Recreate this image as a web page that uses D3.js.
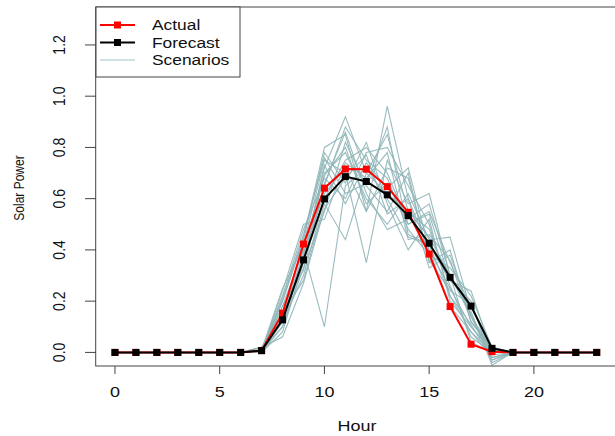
<!DOCTYPE html>
<html>
<head>
<meta charset="utf-8">
<script src="https://cdn.jsdelivr.net/npm/d3@7"></script>
<style>
  body { margin: 0; background: #fff; }
  text { font-family: "Liberation Sans", Arial, sans-serif; fill: #111; }
</style>
</head>
<body>
<svg id="chart" width="615" height="436"></svg>
<script>
const hours = d3.range(0, 24);
const actual = [0,0,0,0,0,0,0,0.007,0.153,0.423,0.641,0.716,0.715,0.647,0.547,0.384,0.179,0.032,0.003,0,0,0,0,0];
const forecast = [0,0,0,0,0,0,0,0.007,0.127,0.361,0.599,0.686,0.667,0.615,0.534,0.426,0.293,0.181,0.016,0,0,0,0,0];

// scenario values for hours 7..19 (zero outside)
const scenarioHours = d3.range(7, 20);
const scenarios = [
  [0.01,0.15,0.38,0.72,0.92,0.70,0.62,0.55,0.45,0.30,0.15,-0.02,0],
  [0.00,0.20,0.45,0.80,0.85,0.55,0.96,0.60,0.40,0.25,0.10,0.00,0],
  [0.02,0.12,0.30,0.60,0.75,0.80,0.70,0.50,0.55,0.35,0.18,0.02,0],
  [0.00,0.18,0.40,0.10,0.65,0.72,0.60,0.45,0.42,0.28,0.20,-0.04,0],
  [0.01,0.22,0.48,0.68,0.60,0.78,0.80,0.65,0.50,0.22,0.08,0.00,0],
  [0.00,0.10,0.33,0.55,0.82,0.65,0.55,0.70,0.35,0.40,0.12,0.01,0],
  [0.01,0.25,0.42,0.75,0.70,0.35,0.75,0.58,0.62,0.30,0.14,-0.03,0],
  [0.00,0.14,0.36,0.65,0.88,0.75,0.68,0.48,0.38,0.33,0.22,0.02,0],
  [0.02,0.16,0.28,0.58,0.44,0.70,0.85,0.55,0.48,0.26,0.06,0.00,0],
  [0.00,0.08,0.35,0.70,0.78,0.60,0.50,0.62,0.44,0.45,0.16,-0.05,0],
  [0.01,0.20,0.44,0.78,0.66,0.82,0.58,0.40,0.52,0.20,0.10,0.01,0],
  [0.00,0.12,0.39,0.62,0.72,0.55,0.72,0.68,0.36,0.24,0.19,-0.01,0],
  [0.01,0.18,0.32,0.66,0.86,0.62,0.48,0.52,0.58,0.30,0.04,0.00,0],
  [0.00,0.24,0.50,0.52,0.74,0.68,0.78,0.44,0.46,0.36,0.12,0.02,0],
  [0.01,0.10,0.37,0.73,0.58,0.74,0.64,0.72,0.40,0.18,0.08,-0.02,0],
  [0.00,0.15,0.41,0.69,0.80,0.58,0.66,0.50,0.54,0.28,0.24,0.00,0],
  [0.02,0.06,0.27,0.56,0.68,0.77,0.54,0.60,0.33,0.38,0.14,0.01,0],
  [0.00,0.21,0.46,0.76,0.62,0.66,0.88,0.46,0.42,0.22,0.11,-0.03,0]
];

const xTicks = [0, 5, 10, 15, 20];
const yTicks = [0, 0.2, 0.4, 0.6, 0.8, 1.0, 1.2];
const legendLabels = ["Actual", "Forecast", "Scenarios"];

const svg = d3.select("#chart");
const stretch = 1.2; // text in the reference is widened horizontally

const x = d3.scaleLinear().domain([-0.92, 23.92]).range([95.7, 616]);
const y = d3.scaleLinear().domain([-0.053, 1.348]).range([366, 7]);

const line = d3.line()
    .x(d => x(d[0]))
    .y(d => y(d[1]));

// scenarios
svg.append("g")
  .selectAll("path")
  .data(scenarios)
  .enter().append("path")
    .attr("d", s => line([[6, 0]].concat(scenarioHours.map((h, i) => [h, s[i]]))))
    .attr("fill", "none")
    .attr("stroke", "#8fb5b8")
    .attr("stroke-width", 1.1)
    .attr("stroke-opacity", 0.9);

function drawSeries(vals, color) {
  const pts = hours.map((h, i) => [h, vals[i]]);
  const g = svg.append("g");
  g.append("path")
    .attr("d", line(pts))
    .attr("fill", "none")
    .attr("stroke", color)
    .attr("stroke-width", 2);
  g.selectAll("rect")
    .data(pts)
    .enter().append("rect")
      .attr("x", d => x(d[0]) - 3.5)
      .attr("y", d => y(d[1]) - 3.5)
      .attr("width", 7)
      .attr("height", 7)
      .attr("fill", color);
}
drawSeries(actual, "#ff0000");
drawSeries(forecast, "#000000");

// plot box
svg.append("rect")
    .attr("x", x.range()[0])
    .attr("y", 7)
    .attr("width", x.range()[1] - x.range()[0])
    .attr("height", 366 - 7)
    .attr("fill", "none")
    .attr("stroke", "#444")
    .attr("stroke-width", 1);

// y axis
const yAxis = svg.append("g");
yAxis.selectAll("line")
  .data(yTicks)
  .enter().append("line")
    .attr("x1", 85).attr("x2", 96)
    .attr("y1", d => y(d)).attr("y2", d => y(d))
    .attr("stroke", "#444");
yAxis.selectAll("text")
  .data(yTicks)
  .enter().append("text")
    .attr("transform", d => `translate(65,${y(d)}) scale(${stretch},1) rotate(-90)`)
    .attr("text-anchor", "middle")
    .style("font-size", "14px")
    .text(d => d.toFixed(1));

// x axis
const xAxis = svg.append("g");
xAxis.selectAll("line")
  .data(xTicks)
  .enter().append("line")
    .attr("x1", d => x(d)).attr("x2", d => x(d))
    .attr("y1", 366).attr("y2", 374)
    .attr("stroke", "#444");
xAxis.selectAll("text")
  .data(xTicks)
  .enter().append("text")
    .attr("transform", d => `translate(${x(d)},397) scale(${stretch},1)`)
    .attr("text-anchor", "middle")
    .style("font-size", "15px")
    .text(d => d);

svg.append("text")
    .attr("transform", `translate(357,431) scale(${stretch},1)`)
    .attr("text-anchor", "middle")
    .style("font-size", "15px")
    .text("Hour");

svg.append("text")
    .attr("transform", `translate(24,188) scale(${stretch},1) rotate(-90)`)
    .attr("text-anchor", "middle")
    .style("font-size", "12px")
    .text("Solar Power");

// legend
const legend = svg.append("g");
legend.append("rect")
    .attr("x", 96).attr("y", 7)
    .attr("width", 144).attr("height", 70)
    .attr("fill", "#fff")
    .attr("stroke", "#444");
const legendColors = ["#ff0000", "#000000", "#9fc3c6"];
legendLabels.forEach((lab, i) => {
  const ly = 25 + i * 17.5;
  legend.append("line")
      .attr("x1", 100).attr("x2", 135)
      .attr("y1", ly).attr("y2", ly)
      .attr("stroke", legendColors[i])
      .attr("stroke-width", i < 2 ? 2 : 1.2);
  if (i < 2) {
    legend.append("rect")
        .attr("x", 114).attr("y", ly - 3.5)
        .attr("width", 7).attr("height", 7)
        .attr("fill", legendColors[i]);
  }
  legend.append("text")
      .attr("transform", `translate(152,${ly + 5}) scale(${stretch},1)`)
      .style("font-size", "14.5px")
      .text(lab);
});
</script>
</body>
</html>
